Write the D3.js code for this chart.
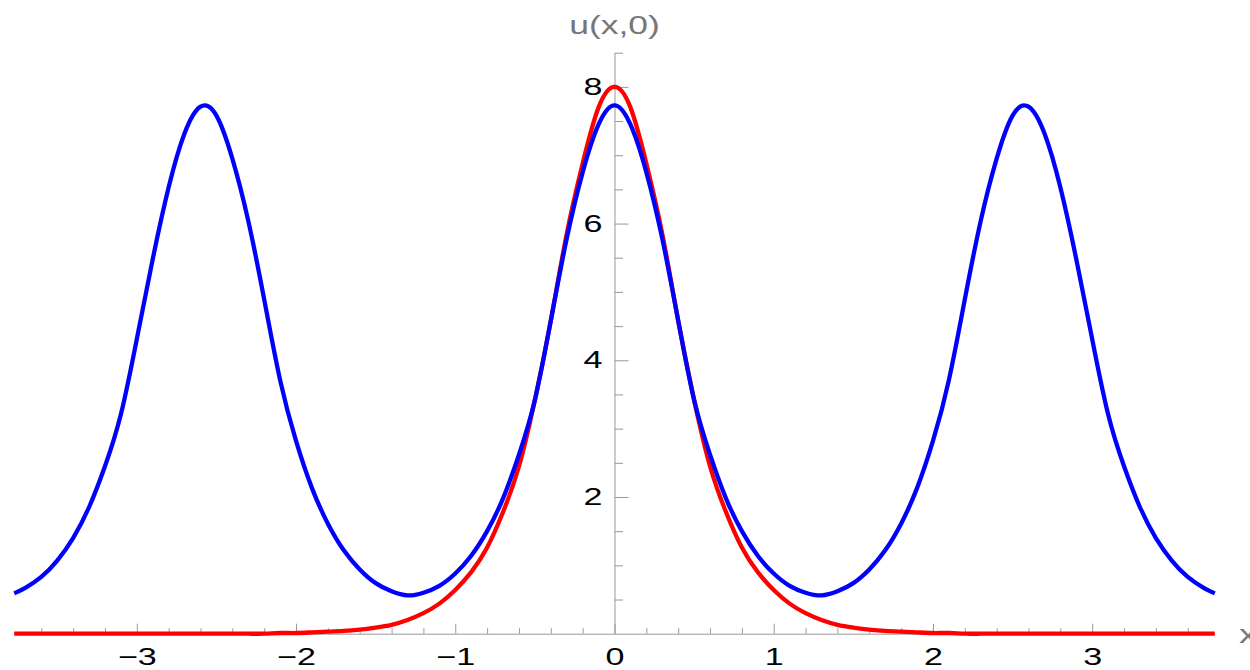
<!DOCTYPE html>
<html>
<head>
<meta charset="utf-8">
<script src="https://cdn.jsdelivr.net/npm/d3@7"></script>
<style>
  body { margin: 0; background: #fff; }
  .axis text { font-family: "Liberation Sans", Arial, sans-serif; font-size: 24px; fill: #000; }
  .axis line, .axis path { stroke: #999; }
</style>
</head>
<body>
<div id="chart"></div>
<script>
// x samples shared by both curves
const xValues = [
  -3.77, -3.7, -3.6, -3.5, -3.4, -3.3, -3.2, -3.1, -3.0, -2.9, -2.8, -2.7, -2.6, -2.5, -2.4, -2.3, -2.2, -2.1, -2.0,
  -1.9, -1.8, -1.7, -1.6, -1.5, -1.4, -1.3, -1.2, -1.1, -1.0, -0.9, -0.8, -0.7, -0.6, -0.5, -0.4, -0.3, -0.2, -0.1,
  0, 0.1, 0.2, 0.3, 0.4, 0.5, 0.6, 0.7, 0.8, 0.9, 1.0, 1.1, 1.2, 1.3, 1.4, 1.5, 1.6, 1.7, 1.8, 1.9,
  2.0, 2.1, 2.2, 2.3, 2.4, 2.5, 2.6, 2.7, 2.8, 2.9, 3.0, 3.1, 3.2, 3.3, 3.4, 3.5, 3.6, 3.7, 3.77
];

// red: single hump
const redValues = [
  0, 0, 0, 0, 0, 0, 0, 0, 0, 0, 0, 0, 0, 0, 0, 0, 0, 0.01, 0.01,
  0.02, 0.03, 0.04, 0.06, 0.09, 0.13, 0.20, 0.30, 0.44, 0.64, 0.90, 1.26, 1.78, 2.45, 3.42, 4.58, 5.85, 6.88, 7.70,
  8.00, 7.70, 6.88, 5.85, 4.58, 3.42, 2.45, 1.78, 1.26, 0.90, 0.64, 0.44, 0.30, 0.20, 0.13, 0.09, 0.06, 0.04, 0.03, 0.02,
  0.01, 0.01, 0, 0, 0, 0, 0, 0, 0, 0, 0, 0, 0, 0, 0, 0, 0, 0, 0
];

// blue: periodic wave
const blueValues = [
  0.59, 0.67, 0.83, 1.07, 1.40, 1.85, 2.45, 3.21, 4.31, 5.48, 6.53, 7.32, 7.71, 7.58, 6.95, 6.04, 4.89, 3.71, 2.82,
  2.13, 1.61, 1.22, 0.94, 0.74, 0.62, 0.56, 0.60, 0.70, 0.88, 1.14, 1.50, 1.98, 2.62, 3.42, 4.58, 5.78, 6.75, 7.45,
  7.73, 7.45, 6.75, 5.78, 4.58, 3.42, 2.62, 1.98, 1.50, 1.14, 0.88, 0.70, 0.60, 0.56, 0.62, 0.74, 0.94, 1.22, 1.61, 2.13,
  2.82, 3.71, 4.89, 6.04, 6.95, 7.58, 7.71, 7.32, 6.53, 5.48, 4.31, 3.21, 2.45, 1.85, 1.40, 1.07, 0.83, 0.67, 0.59
];

const xMajorTicks = [-3, -2, -1, 0, 1, 2, 3];
const yMajorTicks = [2, 4, 6, 8];
const xLabel = "x";
const yLabel = "u(x,0)";

const width = 1250;
const height = 670;
// the picture's text is drawn wide, so stretch glyphs horizontally
const stretch = 1.42;

const xScale = d3.scaleLinear().domain([-3.765, 3.765]).range([15, 1214]);
const yScale = d3.scaleLinear().domain([0, 8.5]).range([633.7, 52.7]);

const svg = d3
  .select("#chart")
  .append("svg")
  .attr("width", width)
  .attr("height", height);

// minor ticks
const xMinor = d3.range(-36, 37, 2).map(d => d / 10).filter(d => !xMajorTicks.includes(d));
const yMinor = d3.range(1, 18).map(d => d / 2).filter(d => !yMajorTicks.includes(d));

svg
  .append("g")
  .attr("class", "axis")
  .attr("transform", `translate(0,${yScale(0)})`)
  .call(d3.axisBottom(xScale).tickValues(xMinor).tickSize(-5.5).tickFormat(""))
  .call(g => g.select(".domain").remove());

svg
  .append("g")
  .attr("class", "axis")
  .attr("transform", `translate(${xScale(0)},0)`)
  .call(d3.axisRight(yScale).tickValues(yMinor).tickSize(8.5).tickFormat(""))
  .call(g => g.select(".domain").remove());

// major ticks + labels
const xAxisG = svg
  .append("g")
  .attr("class", "axis")
  .attr("transform", `translate(0,${yScale(0)})`)
  .call(d3.axisBottom(xScale).tickValues(xMajorTicks).tickSizeInner(-10).tickSizeOuter(0).tickPadding(14).tickFormat(d3.format("d")));

xAxisG
  .selectAll(".tick text")
  .attr("transform", `scale(${stretch},1)`);

const yAxisG = svg
  .append("g")
  .attr("class", "axis")
  .attr("transform", `translate(${xScale(0)},0)`)
  .call(d3.axisRight(yScale).tickValues(yMajorTicks).tickSizeInner(14).tickSizeOuter(0).tickFormat(d3.format("d")));

yAxisG
  .selectAll(".tick text")
  .attr("x", -12 / stretch)
  .attr("text-anchor", "end")
  .attr("transform", `scale(${stretch},1)`);

// axis titles
svg
  .append("g")
  .attr("transform", `translate(${xScale(0)},33.5) scale(${stretch},1)`)
  .append("text")
  .attr("text-anchor", "middle")
  .style("font-family", "'Liberation Sans', Arial, sans-serif")
  .style("font-size", "25px")
  .style("fill", "#777")
  .text(yLabel);

svg
  .append("g")
  .attr("transform", `translate(1239,643) scale(${stretch},1)`)
  .append("text")
  .style("font-family", "'Liberation Sans', Arial, sans-serif")
  .style("font-size", "26px")
  .style("fill", "#777")
  .text(xLabel);

// curves
const line = d3
  .line()
  .curve(d3.curveNatural)
  .x(d => xScale(d[0]))
  .y(d => yScale(d[1]));

svg
  .append("path")
  .datum(xValues.map((x, i) => [x, redValues[i]]))
  .attr("fill", "none")
  .attr("stroke", "#ff0000")
  .attr("stroke-width", 4.3)
  .attr("d", line);

svg
  .append("path")
  .datum(xValues.map((x, i) => [x, blueValues[i]]))
  .attr("fill", "none")
  .attr("stroke", "#0000ff")
  .attr("stroke-width", 4.3)
  .attr("d", line);
</script>
</body>
</html>
